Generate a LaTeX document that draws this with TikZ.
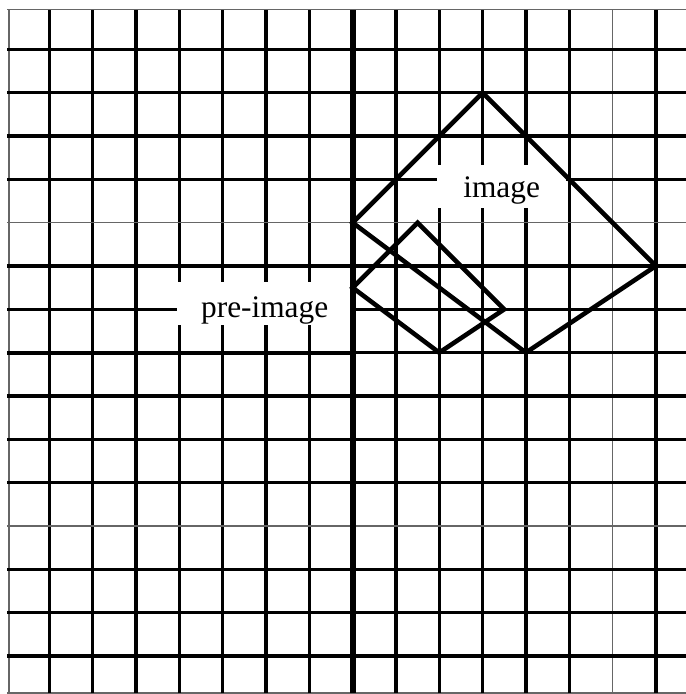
\documentclass[tikz,border=0pt]{standalone}
\usepackage{fontspec}
\setmainfont{Liberation Serif}

\begin{document}
\begin{tikzpicture}[x=1cm, y=1cm,
		gridLine/.style={line width=2.2pt, black},
		faintLine/.style={line width=0.9pt, black!60},
		axisLine/.style={line width=4pt, black},
		shapeLine/.style={line width=3pt, black, line join=miter},
		labelBox/.style={fill=white, inner sep=0pt, align=center,
				font=\fontsize{20.6}{24}\selectfont}
	]
	\useasboundingbox (-8.14,-7.88) rectangle (7.69,8.14);

	% Grid
	\draw[faintLine] (-7.93,-7.86) -- (-7.93,7.92);
	\draw[faintLine] (-7.97,7.92) -- (7.69,7.92);
	\draw[faintLine] (-7.97,-7.86) -- (7.69,-7.86);
	\foreach \k in {-7,...,5,7}{
		\draw[gridLine] (\k,-7.86) -- (\k,7.92);
	}
	\draw[faintLine] (6,-7.86) -- (6,7.92);
	\foreach \k in {-7,...,-5,-3,-2,-1,1,2,4,5,6,7}{
		\draw[gridLine] (-7.97,\k) -- (7.69,\k);
	}
	\draw[faintLine] (-7.97,3) -- (7.69,3);
	\draw[faintLine] (-7.97,-4) -- (7.69,-4);
	\draw[gridLine] (0,0) -- (7.69,0);

	% Labels
	\node[labelBox, minimum width=4.04cm, text height=0.83cm, text depth=0.16cm,
		anchor=base] (preLabel) at (-2.03,0.80) {pre-image};
	\node[labelBox, minimum width=2.98cm, text height=0.74cm, text depth=0.25cm,
		anchor=base] (imgLabel) at (3.44,3.59) {image};

	% Axes
	\draw[line width=2.8pt] (-7.97,0) coordinate (xLeft) -- (0,0) coordinate (O);
	\draw[axisLine] (0,-7.86) coordinate (yBottom) -- (0,7.92) coordinate (yTop);

	% Pre-image
	\coordinate (P1) at (0,1.5);
	\coordinate (P2) at (1.5,3);
	\coordinate (P3) at (3.5,1);
	\coordinate (P4) at (2,0);
	\draw[shapeLine] (P1) -- (P2) -- (P3) -- (P4) -- cycle;

	% Image
	\coordinate (I1) at (0,3);
	\coordinate (I2) at (3,6);
	\coordinate (I3) at (7,2);
	\coordinate (I4) at (4,0);
	\draw[shapeLine] (I1) -- (I2) -- (I3) -- (I4) -- cycle;
\end{tikzpicture}
\end{document}
